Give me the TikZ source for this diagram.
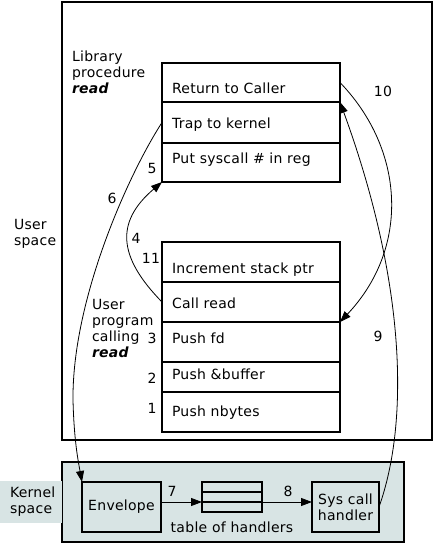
\documentclass[tikz,border=0pt]{standalone}
\usepackage{fontspec}
\setmainfont[LetterSpace=2]{DejaVu Sans}
\usetikzlibrary{arrows.meta,calc}
\definecolor{kern}{RGB}{216,228,228}
\begin{document}
\begin{tikzpicture}[x=1pt,y=-1pt,
  every node/.style={font=\fontsize{14}{16}\selectfont,outer sep=0pt},
  rowbox/.style={draw,line width=1.2pt,anchor=north west,minimum width=178pt,text width=158pt,inner xsep=10pt,inner ysep=0pt,align=left,text depth=0pt},
  kbox/.style={draw,line width=1.8pt,fill=kern,align=center,inner sep=0pt},
  tbox/.style={draw,line width=1.4pt,fill=kern,minimum width=60pt,minimum height=10pt,anchor=north west,inner sep=0pt},
  lbl/.style={inner sep=0pt},
  arr/.style={line width=0.8pt,-{Triangle[length=11pt,width=8pt]}},
  bigbox/.style={draw,line width=2pt,anchor=north west,inner sep=0pt}]
\useasboundingbox (0,0) rectangle (435,544);
% outer boxes
\node[bigbox,minimum width=370pt,minimum height=438pt] (user) at (62,2) {};
\node[bigbox,fill=kern,minimum width=342pt,minimum height=80pt] (kernel) at (62,462) {};
\node[fill=kern,anchor=north west,minimum width=62pt,minimum height=42pt,inner sep=0pt] (kslab) at (0,481) {};
\node[lbl,anchor=west,align=left] (kstext) at (10,502) {Kernel\\space};
% library procedure
\node[rowbox,minimum height=39pt,text height=21pt] (l1) at (162,63) {Return to Caller};
\node[rowbox,minimum height=41pt,text height=11pt] (l2) at (l1.south west) {Trap to kernel};
\node[rowbox,minimum height=39pt,text height=1pt] (l3) at (l2.south west) {Put syscall \# in reg};
% user program
\node[rowbox,minimum height=40pt,text height=22pt] (p1) at (162,242) {Increment stack ptr};
\node[rowbox,minimum height=40pt,text height=12pt] (p2) at (p1.south west) {Call read};
\node[rowbox,minimum height=40pt,text height=2pt] (p3) at (p2.south west) {Push fd};
\node[rowbox,minimum height=30pt,text height=4pt] (p4) at (p3.south west) {Push \&buffer};
\node[rowbox,minimum height=40pt,text height=8pt] (p5) at (p4.south west) {Push nbytes};
% labels
\node[lbl,anchor=north west,align=left] (libl) at (72,51) {Library\\procedure\\\textbf{\textit{read}}};
\node[lbl,anchor=north west,align=left] (progl) at (92,299) {User\\program\\calling\\\textbf{\textit{read}}};
\node[lbl,anchor=west,align=left] (usl) at (14,234) {User\\space};
% kernel boxes
\node[kbox,minimum width=79pt,minimum height=50pt,anchor=north west] (env) at (82,482) {Envelope};
\node[tbox] (t1) at (202,482) {};
\node[tbox] (t2) at (t1.south west) {};
\node[tbox] (t3) at (t2.south west) {};
\node[lbl] (tabl) at (232,527) {table of handlers};
\node[kbox,minimum width=67pt,minimum height=50pt,anchor=north west] (sys) at (312,482) {Sys call\\handler};
% arrows
\draw[arr] (p2.west) .. controls (118,257) and (115,222) .. (l3.south west);
\draw[arr] (l2.west) .. controls (128,175) and (72,300) .. (73,400) .. controls (74,440) and (78,460) .. (env.north west);
\draw[arr] (l1.east) .. controls (405,150) and (410,248) .. (p2.south east);
\draw[arr] (sys.east) .. controls (410,420) and (405,280) .. (l1.south east);
\draw[arr] (env.east |- t3.north) -- (t3.north west);
\draw[arr] (t3.north east) -- (sys.west |- t3.north);
% numbers
\node[lbl] (n1) at (152,408) {1};
\node[lbl] (n2) at (152,378) {2};
\node[lbl] (n3) at (152,338) {3};
\node[lbl] (n4) at (136,238) {4};
\node[lbl] (n5) at (152,168) {5};
\node[lbl] (n6) at (112,198) {6};
\node[lbl] (n7) at (172,491) {7};
\node[lbl] (n8) at (288,491) {8};
\node[lbl] (n9) at (378,336) {9};
\node[lbl] (n10) at (383,91) {10};
\node[lbl] (n11) at (151,258) {11};
\end{tikzpicture}
\end{document}
